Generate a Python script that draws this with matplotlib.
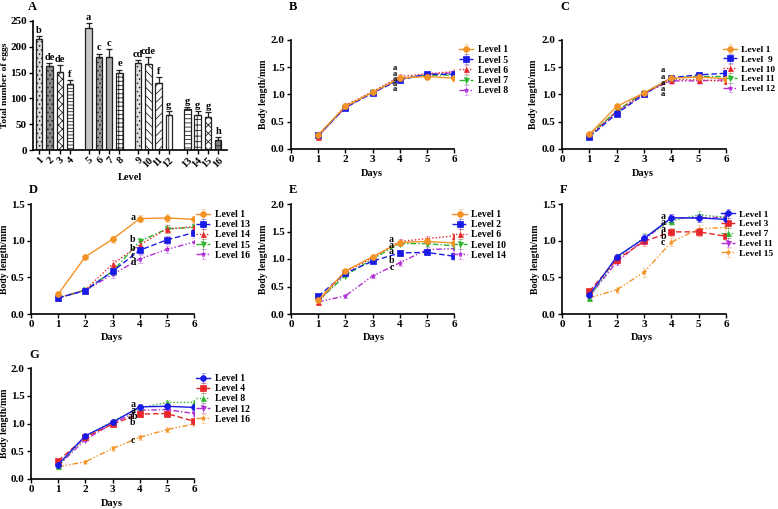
import matplotlib
matplotlib.use('Agg')
import matplotlib.pyplot as plt
from matplotlib.colors import to_rgba

plt.rcParams['font.family'] = ['Liberation Serif', 'DejaVu Serif']
plt.rcParams['font.weight'] = 'bold'
plt.rcParams['hatch.linewidth'] = 0.6

W, H = 778, 509

# ---------------- Panel A data ----------------
levels_A = [str(i) for i in range(1, 17)]
eggs = [215, 162, 152, 128, 236, 181, 180, 150, 169, 167, 130, 68, 79, 67, 64, 20]
eggs_err = [5, 6, 12, 8, 10, 6, 16, 6, 6, 13, 12, 8, 5, 8, 10, 6]
eggs_sig = ['b', 'de', 'de', 'f', 'a', 'c', 'c', 'e', 'cd', 'cde', 'f', 'g', 'g', 'g', 'g', 'h']
bar_fill = ['#dcdcdc', '#8c8c8c', 'white', 'white', '#c8c8c8', '#9a9a9a', '#a8a8a8', 'white',
            '#e0e0e0', 'white', 'white', 'white', 'white', 'white', 'white', '#808080']
bar_hatch = ['....', '....', 'xxxx', '-----', '', '....', '', '++++',
             '....', '\\\\\\\\', '////', '||||', '----', '+++', 'xxxx', '++']

# ---------------- Line panels data ----------------
days = [1, 2, 3, 4, 5, 6]

B_labels = ['Level 1', 'Level 5', 'Level 6', 'Level 7', 'Level 8']
B_values = [[0.26, 0.78, 1.04, 1.30, 1.33, 1.30],
            [0.25, 0.76, 1.03, 1.27, 1.37, 1.37],
            [0.22, 0.80, 1.05, 1.33, 1.38, 1.42],
            [0.25, 0.77, 1.04, 1.29, 1.35, 1.36],
            [0.24, 0.76, 1.03, 1.28, 1.37, 1.40]]
B_err = [0.03, 0.04, 0.04, 0.05, 0.04, 0.05]
B_sig = ['a', 'a', 'a', 'a', 'a']
B_sig_y = [1.49, 1.38, 1.28, 1.19, 1.10]

C_labels = ['Level 1', 'Level  9', 'Level 10', 'Level 11', 'Level 12']
C_values = [[0.27, 0.78, 1.03, 1.30, 1.32, 1.29],
            [0.22, 0.65, 1.00, 1.31, 1.36, 1.39],
            [0.24, 0.68, 1.02, 1.27, 1.27, 1.24],
            [0.25, 0.70, 1.03, 1.30, 1.33, 1.33],
            [0.24, 0.69, 1.02, 1.25, 1.25, 1.27]]
C_err = [0.03, 0.04, 0.04, 0.05, 0.05, 0.05]
C_sig = ['a', 'a', 'a', 'a', 'a']
C_sig_y = [1.45, 1.33, 1.22, 1.11, 1.00]

D_labels = ['Level 1', 'Level 13', 'Level 14', 'Level 15', 'Level 16']
D_values = [[0.27, 0.78, 1.02, 1.30, 1.31, 1.29],
            [0.22, 0.32, 0.58, 0.87, 1.01, 1.11],
            [0.22, 0.33, 0.68, 0.94, 1.16, 1.19],
            [0.22, 0.33, 0.58, 0.99, 1.16, 1.18],
            [0.22, 0.32, 0.54, 0.75, 0.88, 0.98]]
D_err = [0.03, 0.03, 0.05, 0.05, 0.05, 0.05]
D_sig = ['a', 'b', 'b', 'c', 'd']
D_sig_y = [1.31, 1.02, 0.89, 0.80, 0.70]

E_labels = ['Level 1', 'Level 2', 'Level 6', 'Level 10', 'Level 14']
E_values = [[0.25, 0.78, 1.04, 1.30, 1.32, 1.29],
            [0.32, 0.74, 0.96, 1.11, 1.12, 1.05],
            [0.22, 0.76, 1.02, 1.32, 1.37, 1.42],
            [0.24, 0.70, 1.00, 1.28, 1.28, 1.24],
            [0.22, 0.33, 0.69, 0.93, 1.17, 1.19]]
E_err = [0.03, 0.03, 0.04, 0.05, 0.05, 0.06]
E_sig = ['a', 'a', 'a', 'b', 'c']
E_sig_y = [1.35, 1.24, 1.13, 0.98, 0.84]

F_labels = ['Level 1', 'Level 3', 'Level 7', 'Level 11', 'Level 15']
F_values = [[0.26, 0.78, 1.03, 1.31, 1.31, 1.29],
            [0.31, 0.74, 0.99, 1.12, 1.12, 1.06],
            [0.22, 0.76, 1.04, 1.27, 1.35, 1.32],
            [0.24, 0.71, 1.01, 1.31, 1.31, 1.32],
            [0.22, 0.33, 0.57, 0.98, 1.16, 1.18]]
F_err = [0.03, 0.04, 0.06, 0.05, 0.05, 0.05]
F_sig = ['a', 'a', 'a', 'b', 'c']
F_sig_y = [1.33, 1.25, 1.15, 1.06, 0.97]

G_labels = ['Level 1', 'Level 4', 'Level 8', 'Level 12', 'Level 16']
G_values = [[0.26, 0.78, 1.02, 1.30, 1.31, 1.29],
            [0.33, 0.75, 0.99, 1.17, 1.18, 1.04],
            [0.24, 0.76, 1.04, 1.28, 1.38, 1.38],
            [0.24, 0.71, 1.00, 1.24, 1.25, 1.18],
            [0.22, 0.31, 0.55, 0.75, 0.89, 0.99]]
G_err = [0.03, 0.03, 0.04, 0.05, 0.05, 0.04]
G_sig = ['a', 'a', 'ab', 'b', 'c']
G_sig_y = [1.35, 1.24, 1.12, 1.01, 0.70]

ORANGE = '#F39325'
BLUE = '#1A1AE6'
RED = '#E8262B'
GREEN = '#2DB52D'
PURPLE = '#B12FD6'
colors_std = [ORANGE, BLUE, RED, GREEN, PURPLE]
colors_alt = [BLUE, RED, GREEN, PURPLE, ORANGE]
markers = ['o', 's', '^', 'v', '*']
styles = ['-', (0, (4, 2)), (0, (1, 1.5)), (0, (4, 1.5, 1, 1.5)), (0, (4, 1.5, 1, 1.5, 1, 1.5))]

fig = plt.figure(figsize=(W / 100, H / 100), dpi=100)


def axes_px(left, right, top, bottom):
    return fig.add_axes([left / W, 1 - bottom / H, (right - left) / W, (bottom - top) / H])


def style_axes(ax):
    for s in ['top', 'right']:
        ax.spines[s].set_visible(False)
    for s in ['left', 'bottom']:
        ax.spines[s].set_linewidth(1.2)
    ax.tick_params(direction='out', length=3, width=1, labelsize=8, pad=1.5)
    for lab in ax.get_xticklabels() + ax.get_yticklabels():
        lab.set_fontweight('bold')


def ftext(x, y, s, **kw):
    fig.text(x / W, 1 - y / H, s, **kw)


# ---------------- Panel A ----------------
axA = axes_px(33, 227, 21, 150)
posA = [i + (i // 4) * 0.8 for i in range(16)]
for p, v, e, fc, ht in zip(posA, eggs, eggs_err, bar_fill, bar_hatch):
    axA.bar(p, v, width=0.63, color=fc, edgecolor='#222222', linewidth=0.9, hatch=ht, zorder=2)
axA.errorbar(posA, eggs, yerr=[[0] * 16, eggs_err], fmt='none', ecolor='#222222',
             elinewidth=0.9, capsize=2, capthick=0.9, zorder=3)
for p, v, e, s in zip(posA, eggs, eggs_err, eggs_sig):
    axA.text(p, v + e + 2, s, ha='center', va='bottom', fontsize=7.5, fontweight='bold')
axA.set_xlim(-0.6, 18.25)
axA.set_ylim(0, 250)
axA.set_yticks([0, 50, 100, 150, 200, 250])
axA.set_xticks(posA)
axA.set_xticklabels(levels_A, rotation=45, ha='right', va='top', rotation_mode='anchor')
style_axes(axA)
axA.tick_params(axis='x', labelsize=7.5, pad=1)
ftext(130, 177, 'Level', ha='center', va='center', fontsize=7.5, fontweight='bold')
ftext(5, 85, 'Total number of eggs', rotation=90, ha='center', va='center', fontsize=6.8,
      fontweight='bold')
ftext(28, 7, 'A', ha='left', va='center', fontsize=9, fontweight='bold')


# ---------------- Line panels ----------------
def line_panel(box, letter, letter_xy, ylab_x, days_xy, labels, values, err, sig, sig_y, sig_x,
               ymax, colors, leg_anchor, leg_font, sig_font):
    ax = axes_px(*box)
    for k, (lab, vals) in enumerate(zip(labels, values)):
        c = colors[k]
        ax.errorbar(days, vals, yerr=err, color=c, ecolor=to_rgba(c, 0.45), elinewidth=0.7,
                    capsize=1.8, capthick=0.7, linestyle=styles[k], linewidth=1.0,
                    marker=markers[k], markersize=4.2 if k < 2 else 3.6,
                    markeredgewidth=0.5, label=lab, zorder=5 - k)
    for s, y in zip(sig, sig_y):
        ax.text(sig_x, y, s, ha='center', va='center', fontsize=sig_font, fontweight='bold',
                zorder=10)
    ax.set_xlim(0, 6)
    ax.set_ylim(0, ymax)
    ax.set_xticks([0, 1, 2, 3, 4, 5, 6])
    ax.set_yticks([0.0, 0.5, 1.0, 1.5] + ([2.0] if ymax > 1.6 else []))
    ax.yaxis.set_major_formatter(matplotlib.ticker.FormatStrFormatter('%.1f'))
    style_axes(ax)
    leg = ax.legend(loc='upper left', bbox_to_anchor=leg_anchor, frameon=False,
                    fontsize=leg_font, handlelength=1.5, handletextpad=0.45, borderpad=0,
                    borderaxespad=0, labelspacing=0.12)
    for t in leg.get_texts():
        t.set_fontweight('bold')
    left, right, top, bottom = box
    ftext(letter_xy[0], letter_xy[1], letter, ha='left', va='center', fontsize=9,
          fontweight='bold')
    ftext(ylab_x, (top + bottom) / 2, 'Body length/mm', rotation=90, ha='center', va='center',
          fontsize=7, fontweight='bold')
    ftext(days_xy[0], days_xy[1], 'Days', ha='center', va='center', fontsize=7.5,
          fontweight='bold')
    return ax


line_panel((291, 454, 40, 149), 'B', (289, 7), 263, (372, 174), B_labels, B_values, B_err,
           B_sig, B_sig_y, 3.82, 2.0, colors_std, (1.03, 0.95), 7, 6.2)
line_panel((562, 726, 40, 149), 'C', (560, 7), 533, (643, 174), C_labels, C_values, C_err,
           C_sig, C_sig_y, 3.7, 2.0, colors_std, (0.98, 0.95), 6.8, 6.2)
line_panel((31, 194, 204, 314), 'D', (29, 190), 5, (112, 338), D_labels, D_values, D_err,
           D_sig, D_sig_y, 3.75, 1.5, colors_std, (1.01, 0.945), 7, 7)
line_panel((291, 454, 204, 314), 'E', (289, 190), 264, (374, 338), E_labels, E_values, E_err,
           E_sig, E_sig_y, 3.7, 2.0, colors_std, (0.99, 0.945), 7, 7)
line_panel((562, 726, 204, 314), 'F', (560, 190), 535, (642, 338), F_labels, F_values, F_err,
           F_sig, F_sig_y, 3.7, 1.5, colors_alt, (0.97, 0.945), 6.8, 7)
line_panel((31, 194, 368, 479), 'G', (29, 355), 5, (112, 503), G_labels, G_values, G_err,
           G_sig, G_sig_y, 3.75, 2.0, colors_alt, (1.01, 0.945), 7, 7)

fig.savefig('out.png', dpi=100, facecolor='white')
